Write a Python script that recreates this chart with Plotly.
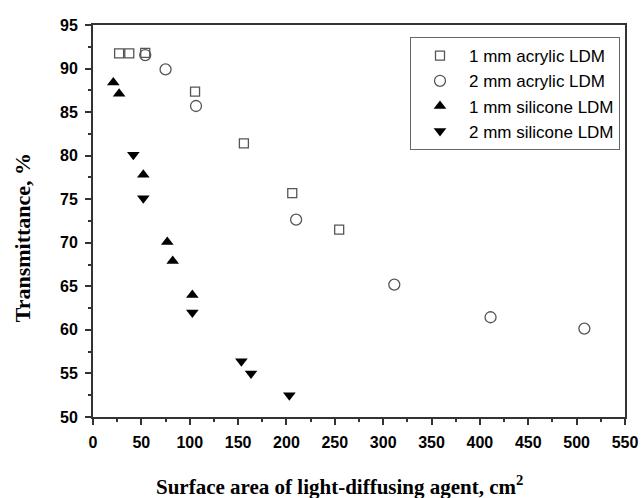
import plotly.graph_objects as go

# 1 mm acrylic LDM
acr1_x = [27, 37.5, 54, 105.5, 156, 206, 254.5]
acr1_y = [91.75, 91.75, 91.8, 87.35, 81.4, 75.7, 71.5]
# 2 mm acrylic LDM
acr2_x = [54, 75, 106.5, 210, 311.5, 411, 508]
acr2_y = [91.55, 89.9, 85.7, 72.65, 65.2, 61.45, 60.15]
# 1 mm silicone LDM
sil1_x = [21, 27, 52, 76.8, 82.4, 102.7]
sil1_y = [88.4, 87.1, 77.8, 70.1, 67.9, 64.0]
# 2 mm silicone LDM
sil2_x = [41.7, 52, 102.7, 153.4, 163.4, 203]
sil2_y = [80.1, 75.1, 62.0, 56.4, 55.0, 52.5]

x_ticks = [0, 50, 100, 150, 200, 250, 300, 350, 400, 450, 500, 550]
y_ticks = [50, 55, 60, 65, 70, 75, 80, 85, 90, 95]

fig = go.Figure()
fig.add_trace(go.Scatter(x=acr1_x, y=acr1_y, mode="markers", name="1 mm acrylic LDM",
                         marker=dict(symbol="square-open", size=9, color="#555555", line=dict(width=1.3))))
fig.add_trace(go.Scatter(x=acr2_x, y=acr2_y, mode="markers", name="2 mm acrylic LDM",
                         marker=dict(symbol="circle-open", size=11, color="#555555", line=dict(width=1.3))))
fig.add_trace(go.Scatter(x=sil1_x, y=sil1_y, mode="markers", name="1 mm silicone LDM",
                         marker=dict(symbol="triangle-up", size=11, color="black")))
fig.add_trace(go.Scatter(x=sil2_x, y=sil2_y, mode="markers", name="2 mm silicone LDM",
                         marker=dict(symbol="triangle-down", size=11, color="black")))

axis_common = dict(
    showline=True, linecolor="#333333", linewidth=2, mirror=True,
    ticks="outside", ticklen=6, tickwidth=1.5, tickcolor="#333333",
    showgrid=False, zeroline=False, automargin=False,
    ticklabelstandoff=4,
    tickfont=dict(family="Liberation Sans", size=16, color="black"),
)

fig.update_layout(
    width=642, height=498,
    margin=dict(l=93, r=17, t=25, b=81),
    paper_bgcolor="white", plot_bgcolor="white",
    showlegend=True,
    legend=dict(
        x=0.9906, y=0.969, xanchor="right", yanchor="top",
        bordercolor="#666666", borderwidth=1, bgcolor="white",
        font=dict(family="Liberation Sans", size=17, color="black"),
        itemwidth=48, tracegroupgap=0,
    ),
    xaxis=dict(
        range=[0, 550], tickmode="array", tickvals=x_ticks,
        ticktext=["<b>%d</b>" % v for v in x_ticks],
        minor=dict(ticks="outside", ticklen=3, dtick=25, tickcolor="#333333", tickwidth=1.5),
        **axis_common,
    ),
    yaxis=dict(
        range=[50, 95], tickmode="array", tickvals=y_ticks,
        ticktext=["<b>%d</b>" % v for v in y_ticks],
        minor=dict(ticks="outside", ticklen=3, dtick=2.5, tickcolor="#333333", tickwidth=1.5),
        **axis_common,
    ),
    annotations=[
        dict(text="<b>Surface area of light-diffusing agent, cm<sup>2</sup></b>",
             xref="paper", yref="paper", x=0.463, y=-0.176,
             xanchor="center", yanchor="middle", showarrow=False,
             font=dict(family="Liberation Serif", size=21, color="black")),
        dict(text="<b>Transmittance, %</b>",
             xref="paper", yref="paper", x=-0.1325, y=0.457, textangle=-90,
             xanchor="center", yanchor="middle", showarrow=False,
             font=dict(family="Liberation Serif", size=22, color="black")),
    ],
)

fig.write_html("out.html", config={"displayModeBar": False},
               post_script="document.body.style.margin='0';document.body.style.padding='0';")
